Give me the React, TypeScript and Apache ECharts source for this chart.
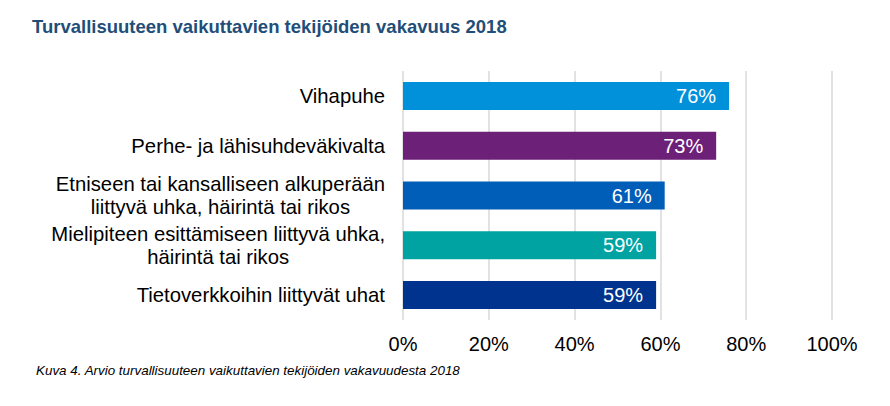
import React, { useEffect, useRef } from "react";
import * as echarts from "echarts";

const categories = [
  "Vihapuhe",
  "Perhe- ja lähisuhdeväkivalta",
  "Etniseen tai kansalliseen alkuperään\nliittyvä uhka, häirintä tai rikos",
  "Mielipiteen esittämiseen liittyvä uhka,\nhäirintä tai rikos",
  "Tietoverkkoihin liittyvät uhat",
];
const values = [76, 73, 61, 59, 59];
const barColors = ["#0091DA", "#6D2077", "#005EB8", "#00A3A1", "#00338D"];
const xTicks = [0, 20, 40, 60, 80, 100];

const FONT = "'Liberation Sans', Arial, sans-serif";

export default function App() {
  const ref = useRef<HTMLDivElement>(null);
  useEffect(() => {
    if (!ref.current) return;
    const chart = echarts.init(ref.current, undefined, { renderer: "svg" });
    chart.setOption({
      animation: false,
      backgroundColor: "#ffffff",
      title: {
        text: "Turvallisuuteen vaikuttavien tekijöiden vakavuus 2018",
        left: 27,
        top: 12,
        textStyle: { fontFamily: FONT, fontSize: 18.5, fontWeight: "bold", color: "#1F4E79" },
      },
      graphic: [
        {
          type: "text",
          left: 36,
          top: 364,
          style: {
            text: "Kuva 4. Arvio turvallisuuteen vaikuttavien tekijöiden vakavuudesta 2018",
            font: "italic 13.4px " + FONT,
            fill: "#000000",
          },
        },
      ],
      grid: { left: 403, right: 58, top: 71, bottom: 86, containLabel: false },
      xAxis: {
        type: "value",
        min: xTicks[0],
        max: xTicks[xTicks.length - 1],
        interval: 20,
        axisLine: { show: false },
        axisTick: { show: false },
        splitLine: { show: true, lineStyle: { color: "#D9D9D9", width: 1.5 } },
        axisLabel: {
          formatter: (v: number) => v + "%",
          fontFamily: FONT,
          fontSize: 20,
          color: "#000000",
          margin: 14,
        },
      },
      yAxis: {
        type: "category",
        inverse: true,
        data: categories,
        axisLine: { show: false },
        axisTick: { show: false },
        axisLabel: {
          margin: 18,
          formatter: (v: string) => "{c|" + v.split("\n").join("}\n{c|") + "}",
          rich: {
            c: {
              fontFamily: FONT,
              fontSize: 20.3,
              lineHeight: 23,
              color: "#000000",
              align: "center",
            },
          },
        },
      },
      series: [
        {
          type: "bar",
          barWidth: 28,
          data: values.map((v, i) => ({ value: v, itemStyle: { color: barColors[i] } })),
          label: {
            show: true,
            position: "insideRight",
            distance: 13,
            formatter: "{c}%",
            fontFamily: FONT,
            fontSize: 20,
            color: "#ffffff",
          },
        },
      ],
    });
    return () => chart.dispose();
  }, []);
  return <div ref={ref} style={{ width: 890, height: 406, margin: -8 }} />;
}
